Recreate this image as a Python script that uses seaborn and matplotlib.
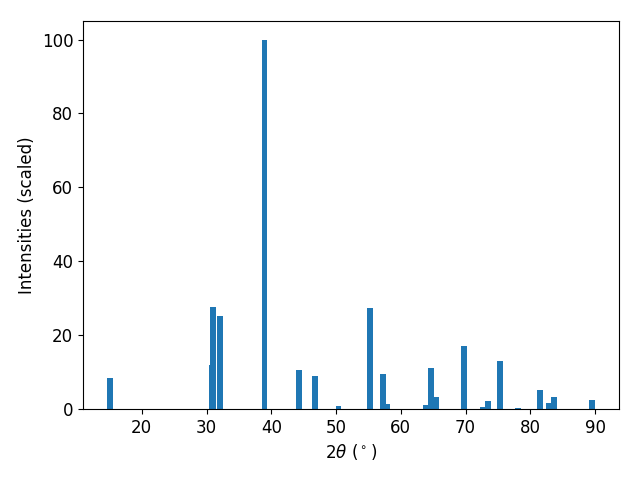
import numpy as np
import matplotlib
matplotlib.use("Agg")
import matplotlib.pyplot as plt
import seaborn as sns

# peak positions (2theta, degrees) and scaled intensities
two_theta = [15.14, 30.79, 31.0, 32.1, 38.96, 44.28, 46.75, 50.37, 55.3, 57.23,
             57.8, 63.9, 64.6, 65.4, 69.7, 72.6, 73.4, 75.27, 78.05, 81.5,
             82.8, 83.6, 89.45]
intensity = [8.4, 11.9, 27.6, 25.2, 100.0, 10.6, 8.9, 0.8, 27.4, 9.5,
             1.4, 1.1, 11.1, 3.3, 17.1, 0.5, 2.2, 13.0, 0.3, 5.1,
             1.6, 3.3, 2.4]

bar_width = 0.9  # degrees
min_gap = np.min(np.diff(np.unique(two_theta)))

fig, ax = plt.subplots(figsize=(6.4, 4.8), dpi=100)
sns.barplot(x=two_theta, y=intensity, native_scale=True, width=bar_width / min_gap,
            color="#1f77b4", saturation=1, errorbar=None, ax=ax)

ax.set_xlabel(r"$2\theta$ ($^\circ$)", fontsize=12)
ax.set_ylabel("Intensities (scaled)", fontsize=12)
ax.tick_params(labelsize=12)
fig.subplots_adjust(left=0.1297, right=0.967, top=0.956, bottom=0.148)
plt.savefig("out.png")
